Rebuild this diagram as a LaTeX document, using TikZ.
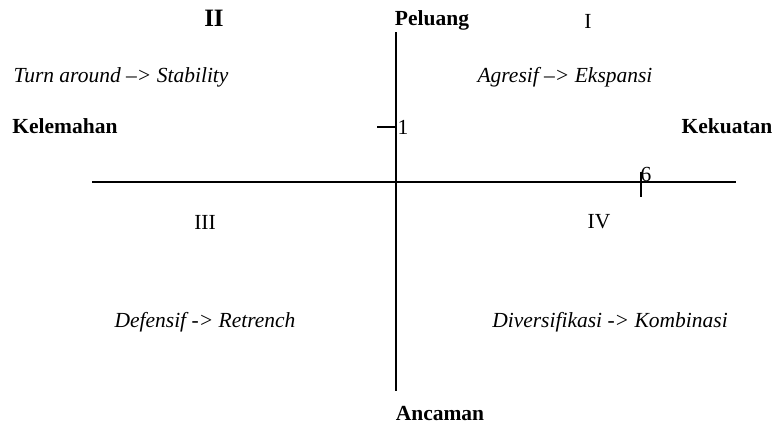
\documentclass[tikz,border=0pt]{standalone}
\usepackage{fontspec}
\setmainfont{Liberation Serif}
\begin{document}
\begin{tikzpicture}[x=1pt,y=-1pt,
  lbl/.style={inner sep=0pt,font=\fontsize{21.5}{24}\selectfont},
  blbl/.style={lbl,font=\fontsize{21.5}{24}\selectfont\bfseries},
  ilbl/.style={lbl,font=\fontsize{21.5}{24}\selectfont\itshape},
  axis/.style={line width=1.6pt}]
\useasboundingbox (0,0) rectangle (774,429);
\coordinate (vt) at (396,32);
\coordinate (vb) at (396,391);
\coordinate (hl) at (92,182);
\coordinate (hr) at (736,182);
\draw[axis] (vt) -- (vb);
\draw[axis] (hl) -- (hr);
\coordinate (t1a) at (377,127);
\coordinate (t1b) at (396,127);
\draw[axis] (t1a) -- (t1b);
\coordinate (t6a) at (641,172);
\coordinate (t6b) at (641,197);
\draw[axis] (t6a) -- (t6b);
\node[lbl] (one) at (403,127) {1};
\node[lbl] (six) at (646,174) {6};
\node[lbl,font=\fontsize{25}{28}\selectfont\bfseries] (q2) at (214,18) {II};
\node[lbl] (q1) at (588,21) {I};
\node[lbl] (q3) at (205,222) {III};
\node[lbl] (q4) at (599,222) {IV};
\node[blbl] (pel) at (432,20) {Peluang};
\node[blbl] (anc) at (440,414) {Ancaman};
\node[blbl] (kel) at (65,126) {Kelemahan};
\node[blbl] (kek) at (727,126) {Kekuatan};
\node[ilbl] (s2) at (121,77) {Turn around --> Stability};
\node[ilbl] (s1) at (565,77) {Agresif --> Ekspansi};
\node[ilbl] (s3) at (205,322) {Defensif -> Retrench};
\node[ilbl] (s4) at (610,322) {Diversifikasi -> Kombinasi};
\end{tikzpicture}
\end{document}
